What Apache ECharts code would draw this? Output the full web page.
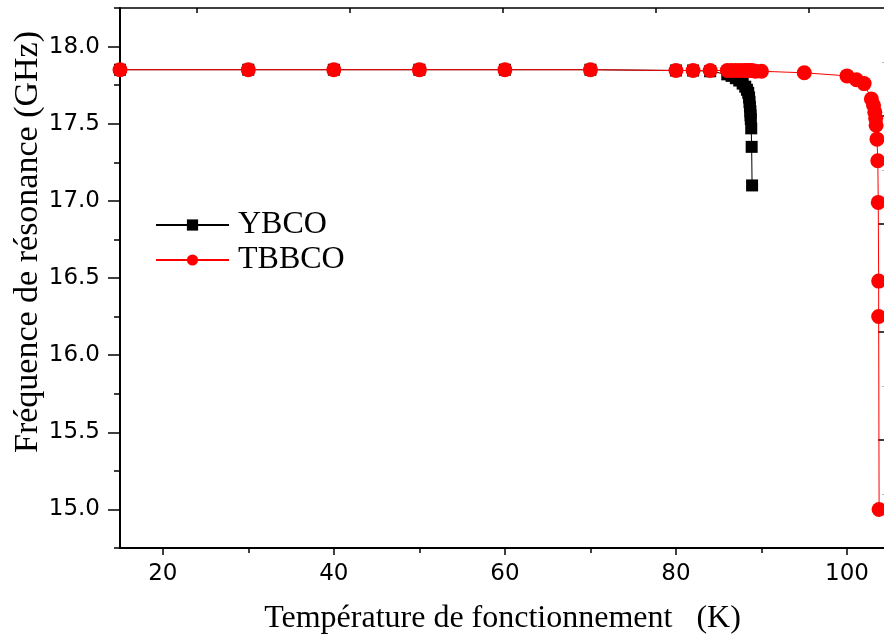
<!DOCTYPE html>
<html>
<head>
<meta charset="utf-8">
<script src="https://cdn.jsdelivr.net/npm/echarts@6/dist/echarts.min.js"></script>
<style>
  html, body { margin: 0; padding: 0; background: #ffffff; }
  #chart { width: 884px; height: 635px; }
</style>
</head>
<body>
<div id="chart"></div>
<script>
// Temperature (K) and resonance frequency (GHz) for each film
const ybcoT = [15, 30, 40, 50, 60, 70, 80, 82, 84, 86, 86.5, 87, 87.4, 87.8, 88.1, 88.3, 88.45, 88.55, 88.6, 88.65, 88.7, 88.72, 88.75, 88.8, 88.85, 88.9];
const ybcoF = [17.85, 17.85, 17.85, 17.85, 17.85, 17.85, 17.845, 17.845, 17.84, 17.82, 17.81, 17.795, 17.78, 17.76, 17.74, 17.72, 17.70, 17.67, 17.64, 17.61, 17.58, 17.555, 17.53, 17.47, 17.35, 17.10];

const tbbcoT = [15, 30, 40, 50, 60, 70, 80, 82, 84, 86, 86.5, 87, 87.5, 88, 88.3, 88.6, 88.9, 89.3, 90, 95, 100, 101.1, 102, 102.85, 103.1, 103.25, 103.35, 103.4, 103.5, 103.6, 103.65, 103.7, 103.7, 103.75];
const tbbcoF = [17.85, 17.85, 17.85, 17.85, 17.85, 17.85, 17.845, 17.845, 17.845, 17.845, 17.845, 17.845, 17.845, 17.845, 17.845, 17.845, 17.845, 17.84, 17.84, 17.83, 17.81, 17.785, 17.76, 17.66, 17.62, 17.575, 17.535, 17.49, 17.40, 17.26, 16.99, 16.48, 16.25, 15.0];

// Axis ticks and labels
const xTickLabels = [20, 40, 60, 80, 100];
const xMinorTicks = [30, 50, 70, 90];
const yTickLabels = [15.0, 15.5, 16.0, 16.5, 17.0, 17.5, 18.0];
const yMinorTicks = [14.75, 15.25, 15.75, 16.25, 16.75, 17.25, 17.75, 18.25];
const topTicks = [1, 3, 5, 7, 9];
const rightTicks = [2, 4, 6, 8];
const rightFaintTicks = [1, 3, 5, 7, 9];

const pairs = (xs, ys) => xs.map((x, i) => [x, ys[i]]);

const serif = 'Liberation Serif';
const sans = 'DejaVu Sans';

const chart = echarts.init(document.getElementById('chart'));

chart.setOption({
  animation: false,
  backgroundColor: '#ffffff',
  grid: { left: 120, right: -1, top: 8, bottom: 87, containLabel: false, outerBoundsMode: 'none' },
  legend: {
    orient: 'vertical',
    left: 155,
    top: 209,
    padding: 0,
    itemWidth: 73,
    itemHeight: 14,
    itemGap: 3,
    textStyle: { fontFamily: serif, fontSize: 32, color: '#000', lineHeight: 32, padding: [0, 0, 0, 4] },
    data: ['YBCO', 'TBBCO']
  },
  xAxis: [
    {
      type: 'value', position: 'bottom', min: 15, max: 104.44,
      name: 'Température de fonctionnement   (K)',
      nameLocation: 'middle', nameGap: 55,
      nameTextStyle: { fontFamily: serif, fontSize: 32, color: '#000' },
      axisLine: { show: true, lineStyle: { color: '#000', width: 2 } },
      axisTick: { show: true, customValues: xTickLabels, length: 7, lineStyle: { color: '#000', width: 1.5 } },
      axisLabel: { customValues: xTickLabels, fontFamily: sans, fontSize: 23, color: '#000', margin: 15 },
      splitLine: { show: false }
    },
    {
      type: 'value', position: 'bottom', min: 15, max: 104.44,
      axisLine: { show: false },
      axisTick: { show: true, customValues: xMinorTicks, length: 5, lineStyle: { color: '#000', width: 1.5 } },
      axisLabel: { show: false },
      splitLine: { show: false }
    },
    {
      type: 'value', position: 'top', min: 0, max: 10,
      axisLine: { show: true, lineStyle: { color: '#000', width: 1.5 } },
      axisTick: { show: true, inside: true, customValues: topTicks, length: 5, lineStyle: { color: '#000', width: 1.5 } },
      axisLabel: { show: false },
      splitLine: { show: false }
    }
  ],
  yAxis: [
    {
      type: 'value', position: 'left', min: 14.75, max: 18.25,
      name: 'Fréquence de résonance (GHz)',
      nameLocation: 'middle', nameGap: 75, nameRotate: 90, nameMoveOverlap: false,
      nameTextStyle: { fontFamily: serif, fontSize: 34, color: '#000', padding: [0, 0, 0, 72] },
      axisLine: { show: true, lineStyle: { color: '#000', width: 2 } },
      axisTick: { show: true, customValues: yMinorTicks, length: 6, lineStyle: { color: '#000', width: 1.5 } },
      axisLabel: {
        customValues: yTickLabels, fontFamily: sans, fontSize: 23, color: '#000', margin: 20,
        formatter: v => v.toFixed(1)
      },
      splitLine: { show: false }
    },
    {
      type: 'value', position: 'left', min: 14.75, max: 18.25,
      axisLine: { show: false },
      axisTick: { show: true, customValues: yTickLabels, length: 12, lineStyle: { color: '#000', width: 1.5 } },
      axisLabel: { show: false },
      splitLine: { show: false }
    },
    {
      type: 'value', position: 'right', min: 0, max: 10,
      axisLine: { show: true, lineStyle: { color: '#000', width: 1.5 } },
      axisTick: { show: true, inside: true, customValues: rightTicks, length: 7, lineStyle: { color: '#000', width: 1.5 } },
      axisLabel: { show: false },
      splitLine: { show: false }
    },
    {
      type: 'value', position: 'right', min: 0, max: 10,
      axisLine: { show: false },
      axisTick: { show: true, inside: true, customValues: rightFaintTicks, length: 3, lineStyle: { color: '#bbbbbb', width: 1 } },
      axisLabel: { show: false },
      splitLine: { show: false }
    }
  ],
  series: [
    {
      name: 'YBCO', type: 'line', xAxisIndex: 0, yAxisIndex: 0,
      data: pairs(ybcoT, ybcoF),
      symbol: 'rect', symbolSize: 12,
      itemStyle: { color: '#000000' },
      lineStyle: { color: '#000000', width: 1 },
      z: 2
    },
    {
      name: 'TBBCO', type: 'line', xAxisIndex: 0, yAxisIndex: 0,
      data: pairs(tbbcoT, tbbcoF),
      symbol: 'circle', symbolSize: 15,
      itemStyle: { color: '#ff0000' },
      lineStyle: { color: '#ff0000', width: 1 },
      z: 3
    }
  ]
});
</script>
</body>
</html>
